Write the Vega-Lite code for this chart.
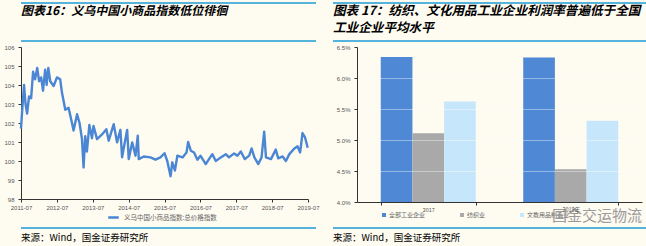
{
  "$schema": "https://vega.github.io/schema/vega-lite/v6.json",
  "background": "#fefbf1",
  "padding": {"top": 2, "left": 3, "right": 0, "bottom": 0},
  "config": {
    "view": {"stroke": null},
    "font": "Liberation Sans",
    "axis": {"labelFont": "Liberation Sans", "labelColor": "#555", "domainColor": "#333", "tickColor": "#333", "labelFontSize": 6, "tickSize": 3, "labelPadding": 2, "title": null}
  },
  "resolve": {"scale": {"color": "independent"}, "legend": {"color": "independent"}},
  "spacing": 2,
  "vconcat": [
    {
      "spacing": 15,
      "hconcat": [
        {
          "width": 295, "height": 38,
          "data": {"values": [{"p": 1}, {"p": 0}]},
          "layer": [
            {"mark": {"type": "rule", "color": "#1e9bd7", "strokeWidth": 1.3},
             "encoding": {"y": {"field": "p", "type": "quantitative", "scale": {"domain": [0, 1]}, "axis": null}}},
            {"data": {"values": [{"t": "图表16：义乌中国小商品指数低位徘徊", "x": 0, "p": 0.92}]},
             "mark": {"type": "text", "align": "left", "baseline": "top", "font": "Noto Sans CJK SC", "fontSize": 12, "fontWeight": "bold", "fontStyle": "italic", "color": "#000"},
             "encoding": {"x": {"field": "x", "type": "quantitative", "scale": {"domain": [0, 1]}, "axis": null},
                          "y": {"field": "p", "type": "quantitative", "scale": {"domain": [0, 1]}, "axis": null},
                          "text": {"field": "t"}}}
          ]
        },
        {
          "width": 313, "height": 38,
          "data": {"values": [{"p": 1}, {"p": 0}]},
          "layer": [
            {"mark": {"type": "rule", "color": "#1e9bd7", "strokeWidth": 1.3},
             "encoding": {"y": {"field": "p", "type": "quantitative", "scale": {"domain": [0, 1]}, "axis": null}}},
            {"data": {"values": [{"t": "图表 17：纺织、文化用品工业企业利润率普遍低于全国\n工业企业平均水平", "x": 0, "p": 0.96}]},
             "mark": {"type": "text", "align": "left", "baseline": "top", "lineBreak": "\n", "lineHeight": 17, "font": "Noto Sans CJK SC", "fontSize": 12.6, "fontWeight": "bold", "fontStyle": "italic", "color": "#000"},
             "encoding": {"x": {"field": "x", "type": "quantitative", "scale": {"domain": [0, 1]}, "axis": null},
                          "y": {"field": "p", "type": "quantitative", "scale": {"domain": [0, 1]}, "axis": null},
                          "text": {"field": "t"}}}
          ]
        }
      ]
    },
    {
      "spacing": 16,
      "resolve": {"scale": {"color": "independent"}, "legend": {"color": "independent"}},
      "hconcat": [
        {
          "width": 287, "height": 152,
          "data": {"values": [
            {"date": "2011-07-01", "v": 101.7, "s": "义乌中国小商品指数:总价格指数"},
            {"date": "2011-07-11", "v": 102.5, "s": "义乌中国小商品指数:总价格指数"},
            {"date": "2011-08-01", "v": 104.0, "s": "义乌中国小商品指数:总价格指数"},
            {"date": "2011-08-16", "v": 103.0, "s": "义乌中国小商品指数:总价格指数"},
            {"date": "2011-09-01", "v": 102.5, "s": "义乌中国小商品指数:总价格指数"},
            {"date": "2011-09-21", "v": 103.4, "s": "义乌中国小商品指数:总价格指数"},
            {"date": "2011-10-12", "v": 103.3, "s": "义乌中国小商品指数:总价格指数"},
            {"date": "2011-11-01", "v": 104.7, "s": "义乌中国小商品指数:总价格指数"},
            {"date": "2011-11-21", "v": 104.3, "s": "义乌中国小商品指数:总价格指数"},
            {"date": "2011-12-13", "v": 104.9, "s": "义乌中国小商品指数:总价格指数"},
            {"date": "2012-01-01", "v": 104.2, "s": "义乌中国小商品指数:总价格指数"},
            {"date": "2012-01-22", "v": 104.4, "s": "义乌中国小商品指数:总价格指数"},
            {"date": "2012-02-10", "v": 103.7, "s": "义乌中国小商品指数:总价格指数"},
            {"date": "2012-03-03", "v": 104.8, "s": "义乌中国小商品指数:总价格指数"},
            {"date": "2012-03-18", "v": 104.0, "s": "义乌中国小商品指数:总价格指数"},
            {"date": "2012-04-04", "v": 104.9, "s": "义乌中国小商品指数:总价格指数"},
            {"date": "2012-04-24", "v": 104.2, "s": "义乌中国小商品指数:总价格指数"},
            {"date": "2012-05-28", "v": 103.95, "s": "义乌中国小商品指数:总价格指数"},
            {"date": "2012-07-01", "v": 104.4, "s": "义乌中国小商品指数:总价格指数"},
            {"date": "2012-08-03", "v": 104.3, "s": "义乌中国小商品指数:总价格指数"},
            {"date": "2012-08-21", "v": 103.6, "s": "义乌中国小商品指数:总价格指数"},
            {"date": "2012-09-24", "v": 102.7, "s": "义乌中国小商品指数:总价格指数"},
            {"date": "2012-10-27", "v": 102.8, "s": "义乌中国小商品指数:总价格指数"},
            {"date": "2012-12-01", "v": 102.0, "s": "义乌中国小商品指数:总价格指数"},
            {"date": "2012-12-17", "v": 101.6, "s": "义乌中国小商品指数:总价格指数"},
            {"date": "2013-01-22", "v": 102.46, "s": "义乌中国小商品指数:总价格指数"},
            {"date": "2013-02-16", "v": 102.0, "s": "义乌中国小商品指数:总价格指数"},
            {"date": "2013-03-13", "v": 101.15, "s": "义乌中国小商品指数:总价格指数"},
            {"date": "2013-03-29", "v": 99.66, "s": "义乌中国小商品指数:总价格指数"},
            {"date": "2013-04-15", "v": 101.3, "s": "义乌中国小商品指数:总价格指数"},
            {"date": "2013-05-02", "v": 100.5, "s": "义乌中国小商品指数:总价格指数"},
            {"date": "2013-05-27", "v": 101.9, "s": "义乌中国小商品指数:总价格指数"},
            {"date": "2013-06-23", "v": 101.2, "s": "义乌中国小商品指数:总价格指数"},
            {"date": "2013-07-08", "v": 101.85, "s": "义乌中国小商品指数:总价格指数"},
            {"date": "2013-08-13", "v": 101.15, "s": "义乌中国小商品指数:总价格指数"},
            {"date": "2013-10-03", "v": 101.4, "s": "义乌中国小商品指数:总价格指数"},
            {"date": "2013-11-16", "v": 101.67, "s": "义乌中国小商品指数:总价格指数"},
            {"date": "2013-12-10", "v": 101.07, "s": "义乌中国小商品指数:总价格指数"},
            {"date": "2014-01-30", "v": 101.94, "s": "义乌中国小商品指数:总价格指数"},
            {"date": "2014-03-05", "v": 100.98, "s": "义乌中国小商品指数:总价格指数"},
            {"date": "2014-04-08", "v": 101.64, "s": "义乌中国小商品指数:总价格指数"},
            {"date": "2014-04-25", "v": 100.2, "s": "义乌中国小商品指数:总价格指数"},
            {"date": "2014-05-29", "v": 101.15, "s": "义乌中国小商品指数:总价格指数"},
            {"date": "2014-06-16", "v": 101.64, "s": "义乌中国小商品指数:总价格指数"},
            {"date": "2014-07-02", "v": 100.1, "s": "义乌中国小商品指数:总价格指数"},
            {"date": "2014-08-06", "v": 100.98, "s": "义乌中国小商品指数:总价格指数"},
            {"date": "2014-09-09", "v": 100.28, "s": "义乌中国小商品指数:总价格指数"},
            {"date": "2014-10-02", "v": 101.33, "s": "义乌中国小商品指数:总价格指数"},
            {"date": "2014-10-12", "v": 100.1, "s": "义乌中国小商品指数:总价格指数"},
            {"date": "2014-12-02", "v": 100.24, "s": "义乌中国小商品指数:总价格指数"},
            {"date": "2015-02-08", "v": 100.19, "s": "义乌中国小商品指数:总价格指数"},
            {"date": "2015-03-31", "v": 100.07, "s": "义乌中国小商品指数:总价格指数"},
            {"date": "2015-05-21", "v": 100.19, "s": "义乌中国小商品指数:总价格指数"},
            {"date": "2015-07-01", "v": 100.41, "s": "义乌中国小商品指数:总价格指数"},
            {"date": "2015-07-29", "v": 100.0, "s": "义乌中国小商品指数:总价格指数"},
            {"date": "2015-09-01", "v": 99.2, "s": "义乌中国小商品指数:总价格指数"},
            {"date": "2015-09-18", "v": 99.93, "s": "义乌中国小商品指数:总价格指数"},
            {"date": "2015-10-15", "v": 99.5, "s": "义乌中国小商品指数:总价格指数"},
            {"date": "2015-11-09", "v": 100.28, "s": "义乌中国小商品指数:总价格指数"},
            {"date": "2016-01-01", "v": 100.19, "s": "义乌中国小商品指数:总价格指数"},
            {"date": "2016-02-10", "v": 100.45, "s": "义乌中国小商品指数:总价格指数"},
            {"date": "2016-02-27", "v": 101.0, "s": "义乌中国小商品指数:总价格指数"},
            {"date": "2016-03-25", "v": 100.54, "s": "义乌中国小商品指数:总价格指数"},
            {"date": "2016-04-27", "v": 100.45, "s": "义乌中国小商品指数:总价格指数"},
            {"date": "2016-05-31", "v": 100.07, "s": "义乌中国小商品指数:总价格指数"},
            {"date": "2016-07-01", "v": 100.28, "s": "义乌中国小商品指数:总价格指数"},
            {"date": "2016-08-24", "v": 99.84, "s": "义乌中国小商品指数:总价格指数"},
            {"date": "2016-09-26", "v": 100.1, "s": "义乌中国小商品指数:总价格指数"},
            {"date": "2016-10-30", "v": 100.36, "s": "义乌中国小商品指数:总价格指数"},
            {"date": "2016-12-04", "v": 100.0, "s": "义乌中国小商品指数:总价格指数"},
            {"date": "2017-01-24", "v": 100.19, "s": "义乌中国小商品指数:总价格指数"},
            {"date": "2017-03-16", "v": 100.36, "s": "义乌中国小商品指数:总价格指数"},
            {"date": "2017-04-18", "v": 100.19, "s": "义乌中国小商品指数:总价格指数"},
            {"date": "2017-06-09", "v": 100.4, "s": "义乌中国小商品指数:总价格指数"},
            {"date": "2017-07-12", "v": 100.28, "s": "义乌中国小商品指数:总价格指数"},
            {"date": "2017-08-16", "v": 100.5, "s": "义乌中国小商品指数:总价格指数"},
            {"date": "2017-09-26", "v": 100.1, "s": "义乌中国小商品指数:总价格指数"},
            {"date": "2017-11-09", "v": 100.28, "s": "义乌中国小商品指数:总价格指数"},
            {"date": "2017-12-04", "v": 100.66, "s": "义乌中国小商品指数:总价格指数"},
            {"date": "2018-01-01", "v": 100.19, "s": "义乌中国小商品指数:总价格指数"},
            {"date": "2018-02-10", "v": 99.84, "s": "义乌中国小商品指数:总价格指数"},
            {"date": "2018-03-15", "v": 100.19, "s": "义乌中国小商品指数:总价格指数"},
            {"date": "2018-04-11", "v": 101.54, "s": "义乌中国小商品指数:总价格指数"},
            {"date": "2018-04-29", "v": 100.19, "s": "义乌中国小商品指数:总价格指数"},
            {"date": "2018-06-19", "v": 100.1, "s": "义乌中国小商品指数:总价格指数"},
            {"date": "2018-08-07", "v": 100.6, "s": "义乌中国小商品指数:总价格指数"},
            {"date": "2018-09-01", "v": 100.14, "s": "义乌中国小商品指数:总价格指数"},
            {"date": "2018-10-16", "v": 100.24, "s": "义乌中国小商品指数:总价格指数"},
            {"date": "2018-11-18", "v": 100.0, "s": "义乌中国小商品指数:总价格指数"},
            {"date": "2018-12-23", "v": 100.36, "s": "义乌中国小商品指数:总价格指数"},
            {"date": "2019-02-12", "v": 100.66, "s": "义乌中国小商品指数:总价格指数"},
            {"date": "2019-03-17", "v": 100.77, "s": "义乌中国小商品指数:总价格指数"},
            {"date": "2019-04-12", "v": 100.45, "s": "义乌中国小商品指数:总价格指数"},
            {"date": "2019-05-06", "v": 101.47, "s": "义乌中国小商品指数:总价格指数"},
            {"date": "2019-06-01", "v": 101.24, "s": "义乌中国小商品指数:总价格指数"},
            {"date": "2019-06-28", "v": 100.7, "s": "义乌中国小商品指数:总价格指数"}
          ]},
          "mark": {"type": "line", "strokeWidth": 2.4, "strokeJoin": "round"},
          "encoding": {
            "x": {"field": "date", "type": "temporal",
                  "scale": {"domain": [{"year": 2011, "month": 7, "date": 1}, {"year": 2019, "month": 7, "date": 1}]},
                  "axis": {"format": "%Y-%m", "grid": false, "labelFlush": false,
                           "values": [{"year": 2011, "month": 7, "date": 1}, {"year": 2012, "month": 7, "date": 1}, {"year": 2013, "month": 7, "date": 1}, {"year": 2014, "month": 7, "date": 1}, {"year": 2015, "month": 7, "date": 1}, {"year": 2016, "month": 7, "date": 1}, {"year": 2017, "month": 7, "date": 1}, {"year": 2018, "month": 7, "date": 1}, {"year": 2019, "month": 7, "date": 1}]}},
            "y": {"field": "v", "type": "quantitative", "scale": {"domain": [98, 106], "zero": false},
                  "axis": {"values": [98, 99, 100, 101, 102, 103, 104, 105, 106], "grid": false, "labelPadding": 4}},
            "color": {"field": "s", "type": "nominal", "scale": {"range": ["#4a86d4"]},
                      "legend": {"orient": "none", "legendX": 84, "legendY": 162, "title": null, "symbolType": "stroke", "symbolStrokeWidth": 2.5, "symbolSize": 110, "labelFontSize": 6.5, "labelColor": "#666", "labelFont": "Noto Sans CJK SC", "padding": 2}}
          }
        },
        {
          "width": 285, "height": 155,
          "title": {"text": "国金交运物流", "orient": "bottom", "anchor": "end", "frame": "group", "offset": -11, "fontSize": 15, "font": "Noto Sans CJK SC", "fontWeight": "normal", "color": "#9a9a9a"},
          "data": {"values": [
            {"year": "2017", "series": "全部工业企业", "v": 0.0634},
            {"year": "2017", "series": "纺织业", "v": 0.0511},
            {"year": "2017", "series": "文教用品制造业", "v": 0.0562},
            {"year": "2018年", "series": "全部工业企业", "v": 0.0633},
            {"year": "2018年", "series": "纺织业", "v": 0.0453},
            {"year": "2018年", "series": "文教用品制造业", "v": 0.0531}
          ]},
          "mark": {"type": "bar"},
          "encoding": {
            "x": {"field": "year", "type": "nominal", "sort": ["2017", "2018年"],
                  "scale": {"paddingInner": 0.333, "paddingOuter": 0.1667},
                  "axis": {"labelAngle": 0, "tickBand": "extent", "zindex": 1, "labelFont": "Noto Sans CJK SC", "labelFontSize": 5.5}},
            "xOffset": {"field": "series", "type": "nominal", "sort": ["全部工业企业", "纺织业", "文教用品制造业"], "scale": {"paddingInner": 0, "paddingOuter": 0}},
            "y": {"field": "v", "type": "quantitative", "scale": {"domain": [0.04, 0.065], "zero": false, "clamp": true},
                  "axis": {"values": [0.04, 0.045, 0.05, 0.055, 0.06, 0.065], "format": ".1%", "grid": true, "gridColor": "#ffffff", "gridOpacity": 0.4, "zindex": 1, "labelPadding": 4}},
            "color": {"field": "series", "type": "nominal", "sort": ["全部工业企业", "纺织业", "文教用品制造业"],
                      "scale": {"range": ["#4f89d5", "#a9a9a9", "#c6e7fb"]},
                      "legend": {"orient": "none", "legendX": 22, "legendY": 163, "direction": "horizontal", "title": null, "symbolType": "square", "symbolSize": 16, "labelFontSize": 6, "labelColor": "#666", "labelFont": "Noto Sans CJK SC", "columnPadding": 33, "labelOffset": 2, "padding": 2}}
          }
        }
      ]
    },
    {
      "spacing": 15,
      "hconcat": [
        {
          "width": 295, "height": 19,
          "data": {"values": [{"p": 1}]},
          "layer": [
            {"mark": {"type": "rule", "color": "#1e9bd7", "strokeWidth": 1.3},
             "encoding": {"y": {"field": "p", "type": "quantitative", "scale": {"domain": [0, 1]}, "axis": null}}},
            {"data": {"values": [{"t": "来源：Wind，国金证券研究所", "x": 0, "p": 0.5}]},
             "mark": {"type": "text", "align": "left", "baseline": "middle", "font": "Noto Sans CJK SC", "fontSize": 9.5, "color": "#000"},
             "encoding": {"x": {"field": "x", "type": "quantitative", "scale": {"domain": [0, 1]}, "axis": null},
                          "y": {"field": "p", "type": "quantitative", "scale": {"domain": [0, 1]}, "axis": null},
                          "text": {"field": "t"}}}
          ]
        },
        {
          "width": 313, "height": 19,
          "data": {"values": [{"p": 1}]},
          "layer": [
            {"mark": {"type": "rule", "color": "#1e9bd7", "strokeWidth": 1.3},
             "encoding": {"y": {"field": "p", "type": "quantitative", "scale": {"domain": [0, 1]}, "axis": null}}},
            {"data": {"values": [{"t": "来源：Wind，国金证券研究所", "x": 0, "p": 0.5}]},
             "mark": {"type": "text", "align": "left", "baseline": "middle", "font": "Noto Sans CJK SC", "fontSize": 9.5, "color": "#000"},
             "encoding": {"x": {"field": "x", "type": "quantitative", "scale": {"domain": [0, 1]}, "axis": null},
                          "y": {"field": "p", "type": "quantitative", "scale": {"domain": [0, 1]}, "axis": null},
                          "text": {"field": "t"}}}
          ]
        }
      ]
    }
  ]
}
